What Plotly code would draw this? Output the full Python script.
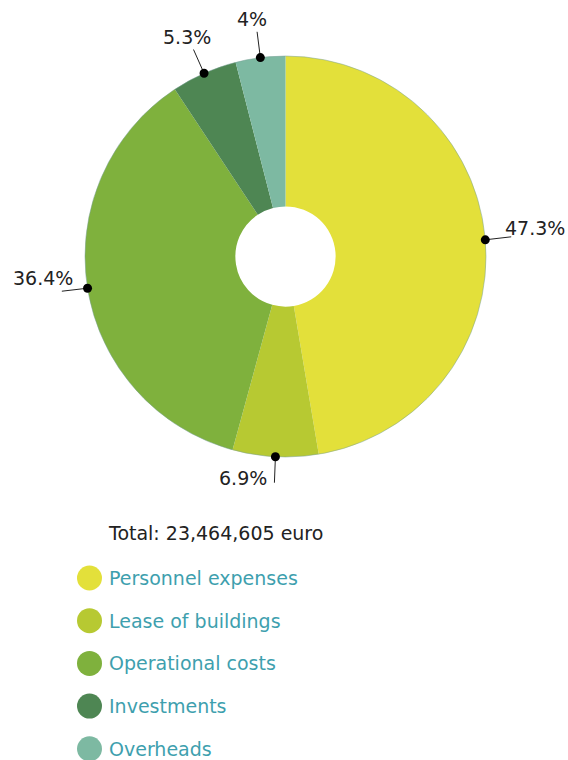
import math
import plotly.graph_objects as go

categories = ["Personnel expenses", "Lease of buildings", "Operational costs", "Investments", "Overheads"]
shares = [47.3, 6.9, 36.4, 5.3, 4.0]
share_labels = ["47.3%", "6.9%", "36.4%", "5.3%", "4%"]
colors = ["#E3E03A", "#B7C932", "#7FB13D", "#4E8653", "#7DB9A2"]
total_text = "Total: 23,464,605 euro"

W, H = 568, 760
CX, CY, R = 285.5, 256.5, 200.5
FONT = "DejaVu Sans"
FS = 19

fig = go.Figure()
fig.add_trace(go.Pie(
    labels=categories, values=shares, sort=False, direction="clockwise", rotation=0,
    hole=0.25, marker=dict(colors=colors, line=dict(width=0)),
    textinfo="none", hoverinfo="label+percent", showlegend=False,
    domain=dict(x=[(CX - R) / W, (CX + R) / W], y=[1 - (CY + R) / H, 1 - (CY - R) / H]),
))
# faint outer rim like the reference
fig.add_shape(type="circle", x0=CX - R, x1=CX + R, y0=CY - R, y1=CY + R, xref="x", yref="y",
              line=dict(color="rgba(120,160,150,0.5)", width=1), layer="above")

# leader lines and dots computed from slice mid-angles
total = sum(shares)
cum = 0.0
for i, v in enumerate(shares):
    mid = (cum + v / 2) / total * 2 * math.pi
    cum += v
    s, c = math.sin(mid), -math.cos(mid)
    px, py = CX + R * s, CY + R * c
    L = 26
    ex, ey = CX + (R + L) * s, CY + (R + L) * c
    if s > 0.5:        # right side
        ey = py - 3
        xa, ya, tx, ty = "left", "middle", ex - 8, py - 12
    elif s < -0.5:     # left side
        ey = py + 3
        xa, ya, tx, ty = "right", "middle", ex + 13, py - 10
    elif c > 0:        # bottom
        ex = px - 1
        xa, ya, tx, ty = "right", "middle", ex - 5, ey - 5
    else:              # top
        xa, ya, tx, ty = "center", "middle", ex - 4 + 5 * s, ey - 13
    fig.add_shape(type="line", x0=px, y0=py, x1=ex, y1=ey, xref="x", yref="y",
                  line=dict(color="#222", width=1), layer="above")
    fig.add_shape(type="circle", x0=px - 4.5, x1=px + 4.5, y0=py - 4.5, y1=py + 4.5, xref="x", yref="y",
                  fillcolor="#000", line=dict(width=0), layer="above")
    fig.add_annotation(x=tx, y=ty, text=share_labels[i], showarrow=False, xanchor=xa, yanchor=ya,
                       font=dict(family=FONT, size=FS, color="#222"), xref="x", yref="y")

# total text
fig.add_annotation(x=106, y=533, text=total_text, showarrow=False, xanchor="left", yanchor="middle",
                   font=dict(family=FONT, size=FS, color="#222"), xref="x", yref="y")

# custom legend
lx0, ly0, step = 89.5, 578, 42.7
fig.add_trace(go.Scatter(x=[lx0] * len(categories), y=[ly0 + i * step for i in range(len(categories))],
                         mode="markers", marker=dict(color=colors, size=25, line=dict(width=0)),
                         showlegend=False, hoverinfo="skip"))
for i, name in enumerate(categories):
    fig.add_annotation(x=107, y=ly0 + i * step, text=name, showarrow=False, xanchor="left", yanchor="middle",
                       font=dict(family=FONT, size=FS, color="#3E9FAE"), xref="x", yref="y")

fig.update_layout(
    width=W, height=H, margin=dict(l=0, r=0, t=0, b=0),
    paper_bgcolor="white", plot_bgcolor="rgba(0,0,0,0)",
    xaxis=dict(range=[0, W], visible=False, fixedrange=True),
    yaxis=dict(range=[H, 0], visible=False, fixedrange=True),
)
fig.write_html("out.html")
